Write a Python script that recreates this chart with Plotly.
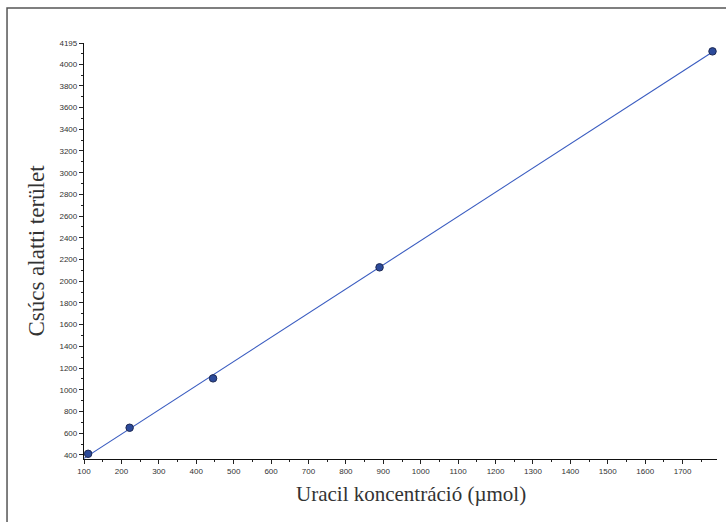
import numpy as np
import plotly.graph_objects as go

# Calibration data: uracil concentration vs. peak area
concentration = [111, 222, 445, 890, 1780]
peak_area = [410, 650, 1105, 2128, 4118]

x_ticks = list(range(100, 1701, 100))
y_ticks = list(range(400, 4001, 200)) + [4195]
y_ticktext = [str(v) for v in y_ticks]

x_range = [100, 1792]
y_range = [362, 4195]

# Least-squares calibration line
slope, intercept = np.polyfit(concentration, peak_area, 1)
fit_x = np.array([100, concentration[-1]])
fit_y = slope * fit_x + intercept

fig = go.Figure()
fig.add_trace(go.Scatter(
    x=fit_x, y=fit_y, mode="lines",
    line=dict(color="#3a5cc0", width=1.1),
    hoverinfo="skip", cliponaxis=True,
))
fig.add_trace(go.Scatter(
    x=concentration, y=peak_area, mode="markers",
    marker=dict(size=7.5, color="#2c4a9a", line=dict(color="#1e2a55", width=1)),
))

serif = "Liberation Serif, Times New Roman, serif"
tick_font = dict(family="Liberation Sans, Arial, sans-serif", size=8, color="#333333")

fig.update_xaxes(
    range=x_range, tickvals=x_ticks, ticks="outside", ticklen=4, tickwidth=1,
    tickcolor="#222", showline=True, linecolor="#111", linewidth=1.3,
    showgrid=False, zeroline=False, tickfont=tick_font,
    minor=dict(dtick=50, tick0=50, ticks="outside", ticklen=2, tickcolor="#222"),
)
fig.update_yaxes(
    range=y_range, tickvals=y_ticks, ticktext=y_ticktext, ticks="outside",
    ticklen=4, tickwidth=1, tickcolor="#222", showline=True, linecolor="#111",
    linewidth=1.3, showgrid=False, zeroline=False, tickfont=tick_font,
    minor=dict(dtick=100, tick0=0, ticks="outside", ticklen=2, tickcolor="#222"),
    title=dict(text="Csúcs alatti terület",
               font=dict(family=serif, size=23, color="#333333"), standoff=8),
)

# X-axis title, set slightly right of the plot centre
fig.add_annotation(
    text="Uracil koncentráció (µmol)", xref="paper", yref="paper",
    x=0.5166, y=-0.084, xanchor="center", yanchor="middle", showarrow=False,
    font=dict(family=serif, size=21, color="#333333"),
)

# Frame around the figure (extends past the right and bottom edges)
fig.add_shape(type="rect", xref="paper", yref="paper",
              x0=-0.1216, x1=1.08, y0=-0.25, y1=1.0841,
              line=dict(color="#555555", width=1.5), layer="below")

fig.update_layout(
    width=726, height=522,
    margin=dict(l=84, r=9, t=43, b=63),
    paper_bgcolor="white", plot_bgcolor="white",
    showlegend=False,
)

fig.write_html("out.html")
